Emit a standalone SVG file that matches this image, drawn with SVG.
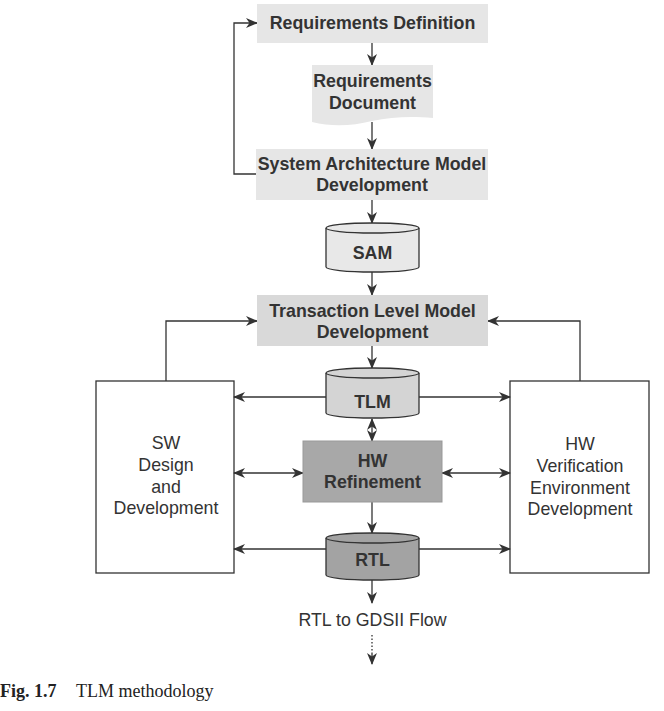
<svg xmlns="http://www.w3.org/2000/svg" width="664" height="711" viewBox="0 0 664 711">
<defs>
<style>
.t{font-family:"Liberation Sans",Arial,sans-serif;font-size:17.8px;fill:#333;text-anchor:middle}
.b{font-weight:bold}
.ln{fill:none;stroke:#333;stroke-width:1.3}
.cy{stroke:#333;stroke-width:1.3}
.cap{font-family:"Liberation Serif","Times New Roman",serif;font-size:18px;fill:#222}
</style>
<marker id="ah" viewBox="0 0 12 10" refX="11" refY="5" markerWidth="12" markerHeight="10" markerUnits="userSpaceOnUse" orient="auto-start-reverse">
<path d="M0,0 L12,5 L0,10 L3.5,5 Z" fill="#333"/>
</marker>
</defs>
<rect width="664" height="711" fill="#fff"/>

<g id="connectors">
<line class="ln" x1="372" y1="43" x2="372" y2="65" marker-end="url(#ah)"/>
<line class="ln" x1="372" y1="122" x2="372" y2="149" marker-end="url(#ah)"/>
<polyline class="ln" points="256,174 234,174 234,23 257,23" marker-end="url(#ah)"/>
<line class="ln" x1="372" y1="200" x2="372" y2="223" marker-end="url(#ah)"/>
<line class="ln" x1="372" y1="272" x2="372" y2="295" marker-end="url(#ah)"/>
<line class="ln" x1="372" y1="346" x2="372" y2="368" marker-end="url(#ah)"/>
<polyline class="ln" points="166,381 166,321 257,321" marker-end="url(#ah)"/>
<polyline class="ln" points="580,381 580,321 488,321" marker-end="url(#ah)"/>
<line class="ln" x1="326" y1="397" x2="234" y2="397" marker-end="url(#ah)"/>
<line class="ln" x1="419" y1="397" x2="510" y2="397" marker-end="url(#ah)"/>
<line class="ln" x1="372" y1="419" x2="372" y2="441" marker-start="url(#ah)" marker-end="url(#ah)"/>
<line class="ln" x1="234" y1="473" x2="303" y2="473" marker-start="url(#ah)" marker-end="url(#ah)"/>
<line class="ln" x1="442" y1="473" x2="510" y2="473" marker-start="url(#ah)" marker-end="url(#ah)"/>
<line class="ln" x1="372" y1="502" x2="372" y2="533" marker-end="url(#ah)"/>
<line class="ln" x1="326" y1="549" x2="234" y2="549" marker-end="url(#ah)"/>
<line class="ln" x1="419" y1="549" x2="510" y2="549" marker-end="url(#ah)"/>
<line class="ln" x1="372" y1="580" x2="372" y2="603" marker-end="url(#ah)"/>
<line class="ln" x1="372" y1="635" x2="372" y2="656" stroke-dasharray="1.5,2"/>
<line class="ln" x1="372" y1="654" x2="372" y2="664" marker-end="url(#ah)"/>
</g>

<g id="req-def">
<rect x="257" y="4" width="231" height="39" fill="#e6e6e6"/>
<text class="t b" x="372.5" y="29">Requirements Definition</text>
</g>

<g id="req-doc">
<path d="M312,65 H433 V118 C410,116 392,117 372,121 C352,126 332,127 312,122 Z" fill="#e6e6e6"/>
<text class="t b" x="372.5" y="87">Requirements</text>
<text class="t b" x="372.5" y="109">Document</text>
</g>

<g id="sam-dev">
<rect x="256" y="149" width="232" height="51" fill="#e6e6e6"/>
<text class="t b" x="372" y="170">System Architecture Model</text>
<text class="t b" x="372" y="191">Development</text>
</g>

<g id="sam">
<path class="cy" d="M326,228 V267 A46.5,5 0 0 0 419,267 V228" fill="#e8e8e8"/>
<ellipse class="cy" cx="372.5" cy="228" rx="46.5" ry="5" fill="#e8e8e8"/>
<text class="t b" x="372.5" y="259">SAM</text>
</g>

<g id="tlm-dev">
<rect x="257" y="295" width="231" height="51" fill="#d9d9d9"/>
<text class="t b" x="372.5" y="317">Transaction Level Model</text>
<text class="t b" x="372.5" y="338">Development</text>
</g>

<g id="tlm">
<path class="cy" d="M326,373 V413 A46.5,5 0 0 0 419,413 V373" fill="#d4d4d4"/>
<ellipse class="cy" cx="372.5" cy="373" rx="46.5" ry="5" fill="#d4d4d4"/>
<text class="t b" x="372.5" y="408">TLM</text>
</g>

<g id="sw">
<rect class="ln" x="96" y="381" width="138" height="192" fill="#fff"/>
<text class="t" x="166" y="449">SW</text>
<text class="t" x="166" y="471">Design</text>
<text class="t" x="166" y="493">and</text>
<text class="t" x="166" y="514">Development</text>
</g>

<g id="hw-ver">
<rect class="ln" x="510" y="381" width="139" height="192" fill="#fff"/>
<text class="t" x="580" y="450">HW</text>
<text class="t" x="580" y="472">Verification</text>
<text class="t" x="580" y="494">Environment</text>
<text class="t" x="580" y="515">Development</text>
</g>

<g id="hw-ref">
<rect x="303" y="441" width="139" height="61" fill="#a8a8a8" stroke="#999" stroke-width="1"/>
<text class="t b" x="372.5" y="467">HW</text>
<text class="t b" x="372.5" y="488">Refinement</text>
</g>

<g id="rtl">
<path class="cy" d="M326,538 V575 A46.5,5 0 0 0 419,575 V538" fill="#a3a3a3"/>
<ellipse class="cy" cx="372.5" cy="538" rx="46.5" ry="5" fill="#a3a3a3"/>
<text class="t b" x="372.5" y="566">RTL</text>
</g>

<g id="gds">
<text class="t" x="372.5" y="626">RTL to GDSII Flow</text>
</g>

<text class="cap" x="0" y="697"><tspan font-weight="bold">Fig. 1.7</tspan></text>
<text class="cap" x="76" y="697">TLM methodology</text>
</svg>
